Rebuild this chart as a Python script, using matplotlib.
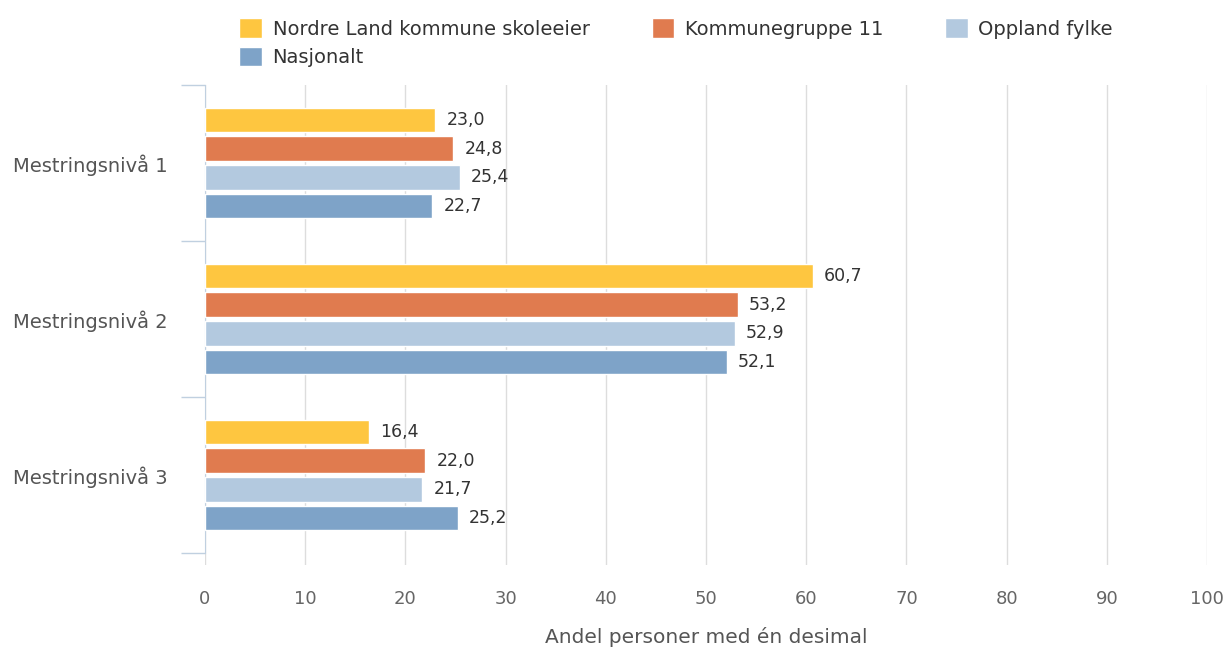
import numpy as np
import matplotlib.pyplot as plt
from matplotlib.patches import Patch

plt.rcParams['font.family'] = ['DejaVu Sans']

# data
categories = ['Mestringsnivå 1', 'Mestringsnivå 2', 'Mestringsnivå 3']
series = ['Nordre Land kommune skoleeier', 'Kommunegruppe 11', 'Oppland fylke', 'Nasjonalt']
values = [
    [23.0, 60.7, 16.4],
    [24.8, 53.2, 22.0],
    [25.4, 52.9, 21.7],
    [22.7, 52.1, 25.2],
]
colors = ['#FEC640', '#E07B4F', '#B3C9DF', '#7EA3C8']
xticks = np.arange(0, 101, 10)

fig = plt.figure(figsize=(12.29, 6.49), dpi=100)
ax = fig.add_axes([205/1229, 1 - 565/649, 1002/1229, 480/649])

y = np.arange(len(categories))
step = 0.184
h = 0.158
for i, (name, vals) in enumerate(zip(series, values)):
    pos = y + (i - 1.5) * step
    ax.barh(pos, vals, height=h, color=colors[i], edgecolor='white', linewidth=1, label=name, zorder=3)
    for p, v in zip(pos, vals):
        ax.text(v + 1.1, p, f'{v:.1f}'.replace('.', ','), va='center', ha='left',
                fontsize=12.5, color='#333333', zorder=4)

ax.set_xlim(0, 100)
ax.set_ylim(2.5 + 12/156, -0.5)
ax.set_xticks(xticks)
ax.set_xticklabels([str(t) for t in xticks], fontsize=13, color='#666666')
ax.tick_params(axis='x', length=0, pad=18)
ax.set_yticks(y)
ax.set_yticklabels(categories, fontsize=14, color='#555555')
ax.tick_params(axis='y', which='major', length=0, pad=27)
ax.set_yticks([-0.5, 0.5, 1.5, 2.5], minor=True)
ax.tick_params(axis='y', which='minor', length=17, color='#C0D0E0', width=1)
ax.grid(axis='x', color='#DDDDDD', linewidth=1, zorder=0)
for s in ['top', 'right', 'bottom']:
    ax.spines[s].set_visible(False)
ax.spines['left'].set_color('#C0D0E0')
ax.spines['left'].set_bounds(-0.5, 2.5)
ax.set_xlabel('Andel personer med én desimal', fontsize=14.5, color='#555555', labelpad=14)

# legend filled row by row
order = [0, 3, 1, 2]
handles = [Patch(facecolor=colors[k], edgecolor='white') for k in order]
labels = [series[k] for k in order]
fig.legend(handles, labels, ncol=3, loc='upper left', bbox_to_anchor=(222/1229, 1 - 1/649),
           frameon=False, fontsize=14, handlelength=1.15, handleheight=1.15,
           handletextpad=0.55, columnspacing=3.2, labelspacing=0.4, labelcolor='#333333')

fig.savefig('out.png', dpi=100)
